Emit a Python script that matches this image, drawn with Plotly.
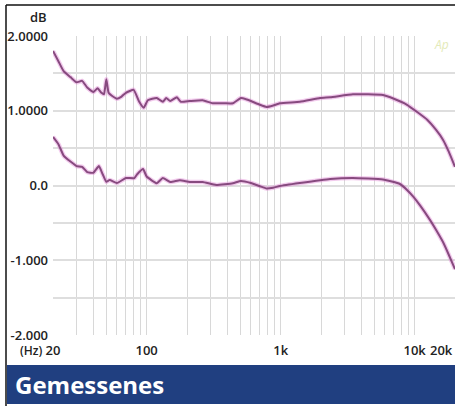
import plotly.graph_objects as go

# ---- data ----
upper_freq = [20, 22, 24, 27, 30, 33, 36, 40, 43, 46, 48, 50, 52, 55, 60, 65, 70, 80, 88, 95,
              102, 110, 119, 132, 140, 150, 168, 180, 210, 262, 311, 380, 440, 505, 560, 600,
              700, 784, 880, 987, 1390, 1970, 2340, 3460, 4500, 5800, 7000, 8770, 10500,
              12400, 14500, 16300, 18000, 20000]
upper_db = [1.80, 1.66, 1.53, 1.45, 1.38, 1.40, 1.31, 1.25, 1.30, 1.24, 1.22, 1.42, 1.24, 1.20,
            1.16, 1.19, 1.24, 1.28, 1.12, 1.04, 1.14, 1.16, 1.17, 1.12, 1.17, 1.13, 1.18, 1.12,
            1.13, 1.14, 1.10, 1.10, 1.10, 1.17, 1.15, 1.13, 1.08, 1.05, 1.07, 1.10, 1.12, 1.17,
            1.18, 1.22, 1.22, 1.21, 1.16, 1.08, 0.98, 0.88, 0.74, 0.61, 0.45, 0.25]

lower_freq = [20, 22, 24, 27, 30, 33, 36, 40, 44, 47, 50, 53, 60, 70, 81, 85, 94, 100, 119,
              132, 150, 177, 210, 262, 330, 440, 505, 600, 700, 784, 880, 987, 1390, 2340,
              3460, 5800, 7760, 8770, 9760, 11000, 13000, 14500, 16300, 18000, 20000]
lower_db = [0.65, 0.55, 0.40, 0.32, 0.26, 0.25, 0.18, 0.17, 0.26, 0.15, 0.05, 0.074, 0.033,
            0.10, 0.10, 0.15, 0.22, 0.12, 0.03, 0.10, 0.047, 0.07, 0.047, 0.047, 0.007, 0.03,
            0.06, 0.033, -0.01, -0.04, -0.03, -0.007, 0.033, 0.087, 0.10, 0.08, 0.02, -0.06,
            -0.15, -0.27, -0.46, -0.60, -0.76, -0.93, -1.12]

x_grid = [20, 30, 40, 50, 60, 70, 80, 90, 100, 200, 300, 400, 500, 600, 700, 800, 900,
          1000, 2000, 3000, 4000, 5000, 6000, 7000, 8000, 9000, 10000]
x_labels = {20: "20", 100: "100", 1000: "1k", 10000: "10k"}
y_grid = [-2, -1.5, -1, -0.5, 0, 0.5, 1, 1.5, 2]
y_labels = {2: "2.0000", 1: "1.0000", 0: "0.0", -1: "-1.000", -2: "-2.000"}

title = "Gemessenes"

FONT = "Open Sans"
LINE = "#874a7f"
HALO = "rgba(226,140,214,0.45)"

fig = go.Figure()
for fx, fy in [(upper_freq, upper_db), (lower_freq, lower_db)]:
    fig.add_trace(go.Scatter(x=fx, y=fy, mode="lines",
                             line=dict(color=HALO, width=4.5, shape="spline", smoothing=0.4),
                             hoverinfo="skip", showlegend=False))
    fig.add_trace(go.Scatter(x=fx, y=fy, mode="lines",
                             line=dict(color=LINE, width=2, shape="spline", smoothing=0.4),
                             showlegend=False))

# plot area pixel geometry
L, R, T, B = 53, 455, 36, 335
W, H = 455, 406
def px(X):
    return (X - L) / (R - L)
def py(Y):
    return (B - Y) / (B - T)

fig.update_layout(
    width=W, height=H,
    margin=dict(l=L, r=W - R, t=T, b=H - B, pad=0),
    paper_bgcolor="white", plot_bgcolor="white",
    xaxis=dict(type="log", range=[1.30103, 4.30103],
               tickvals=x_grid, ticktext=[x_labels.get(v, "") for v in x_grid],
               showgrid=True, gridcolor="#d8d8d8", gridwidth=1,
               zeroline=False, showline=False, ticks="",
               ticklabelstandoff=6,
               tickfont=dict(family=FONT, size=13, color="#222", weight=600)),
    yaxis=dict(range=[-2, 2], tickvals=y_grid,
               ticktext=[y_labels.get(v, "") for v in y_grid],
               showgrid=True, gridcolor="#dedede", gridwidth=1.5,
               zeroline=False, showline=False, ticks="",
               ticklabelstandoff=4,
               tickfont=dict(family=FONT, size=13, color="#222", weight=600)),
    shapes=[
        dict(type="rect", xref="paper", yref="paper",
             x0=px(7), x1=px(455), y0=py(404), y1=py(365),
             fillcolor="#203f80", line=dict(width=0), layer="above"),
        dict(type="line", xref="paper", yref="paper",
             x0=px(6), x1=px(455), y0=py(5), y1=py(5),
             line=dict(color="#111", width=1.5)),
        dict(type="line", xref="paper", yref="paper",
             x0=px(6), x1=px(6), y0=py(5), y1=py(406),
             line=dict(color="#111", width=1.5)),
    ],
    annotations=[
        dict(text="dB", xref="paper", yref="paper", x=px(49), y=py(17),
             xanchor="right", yanchor="middle", showarrow=False,
             font=dict(family=FONT, size=13, color="#222", weight=600)),
        dict(text="(Hz)", xref="paper", yref="paper", x=px(45), y=py(350),
             xanchor="right", yanchor="middle", showarrow=False,
             font=dict(family=FONT, size=12, color="#222", weight=600)),
        dict(text="20k", xref="x", yref="paper", x=4.30103, y=py(350),
             xanchor="right", yanchor="middle", showarrow=False,
             font=dict(family=FONT, size=13, color="#222", weight=600)),
        dict(text="Ap", xref="paper", yref="paper", x=px(441), y=py(45),
             xanchor="center", yanchor="middle", showarrow=False,
             font=dict(family=FONT, size=12, color="#e3eab8", style="italic")),
        dict(text=title, xref="paper", yref="paper", x=px(13), y=py(384),
             xanchor="left", yanchor="middle", showarrow=False,
             font=dict(family=FONT, size=24, color="white", weight=700)),
    ],
)

fig.write_html("out.html",
               config={"displayModeBar": False},
               post_script="document.body.style.margin='0';document.body.style.overflow='hidden';")
